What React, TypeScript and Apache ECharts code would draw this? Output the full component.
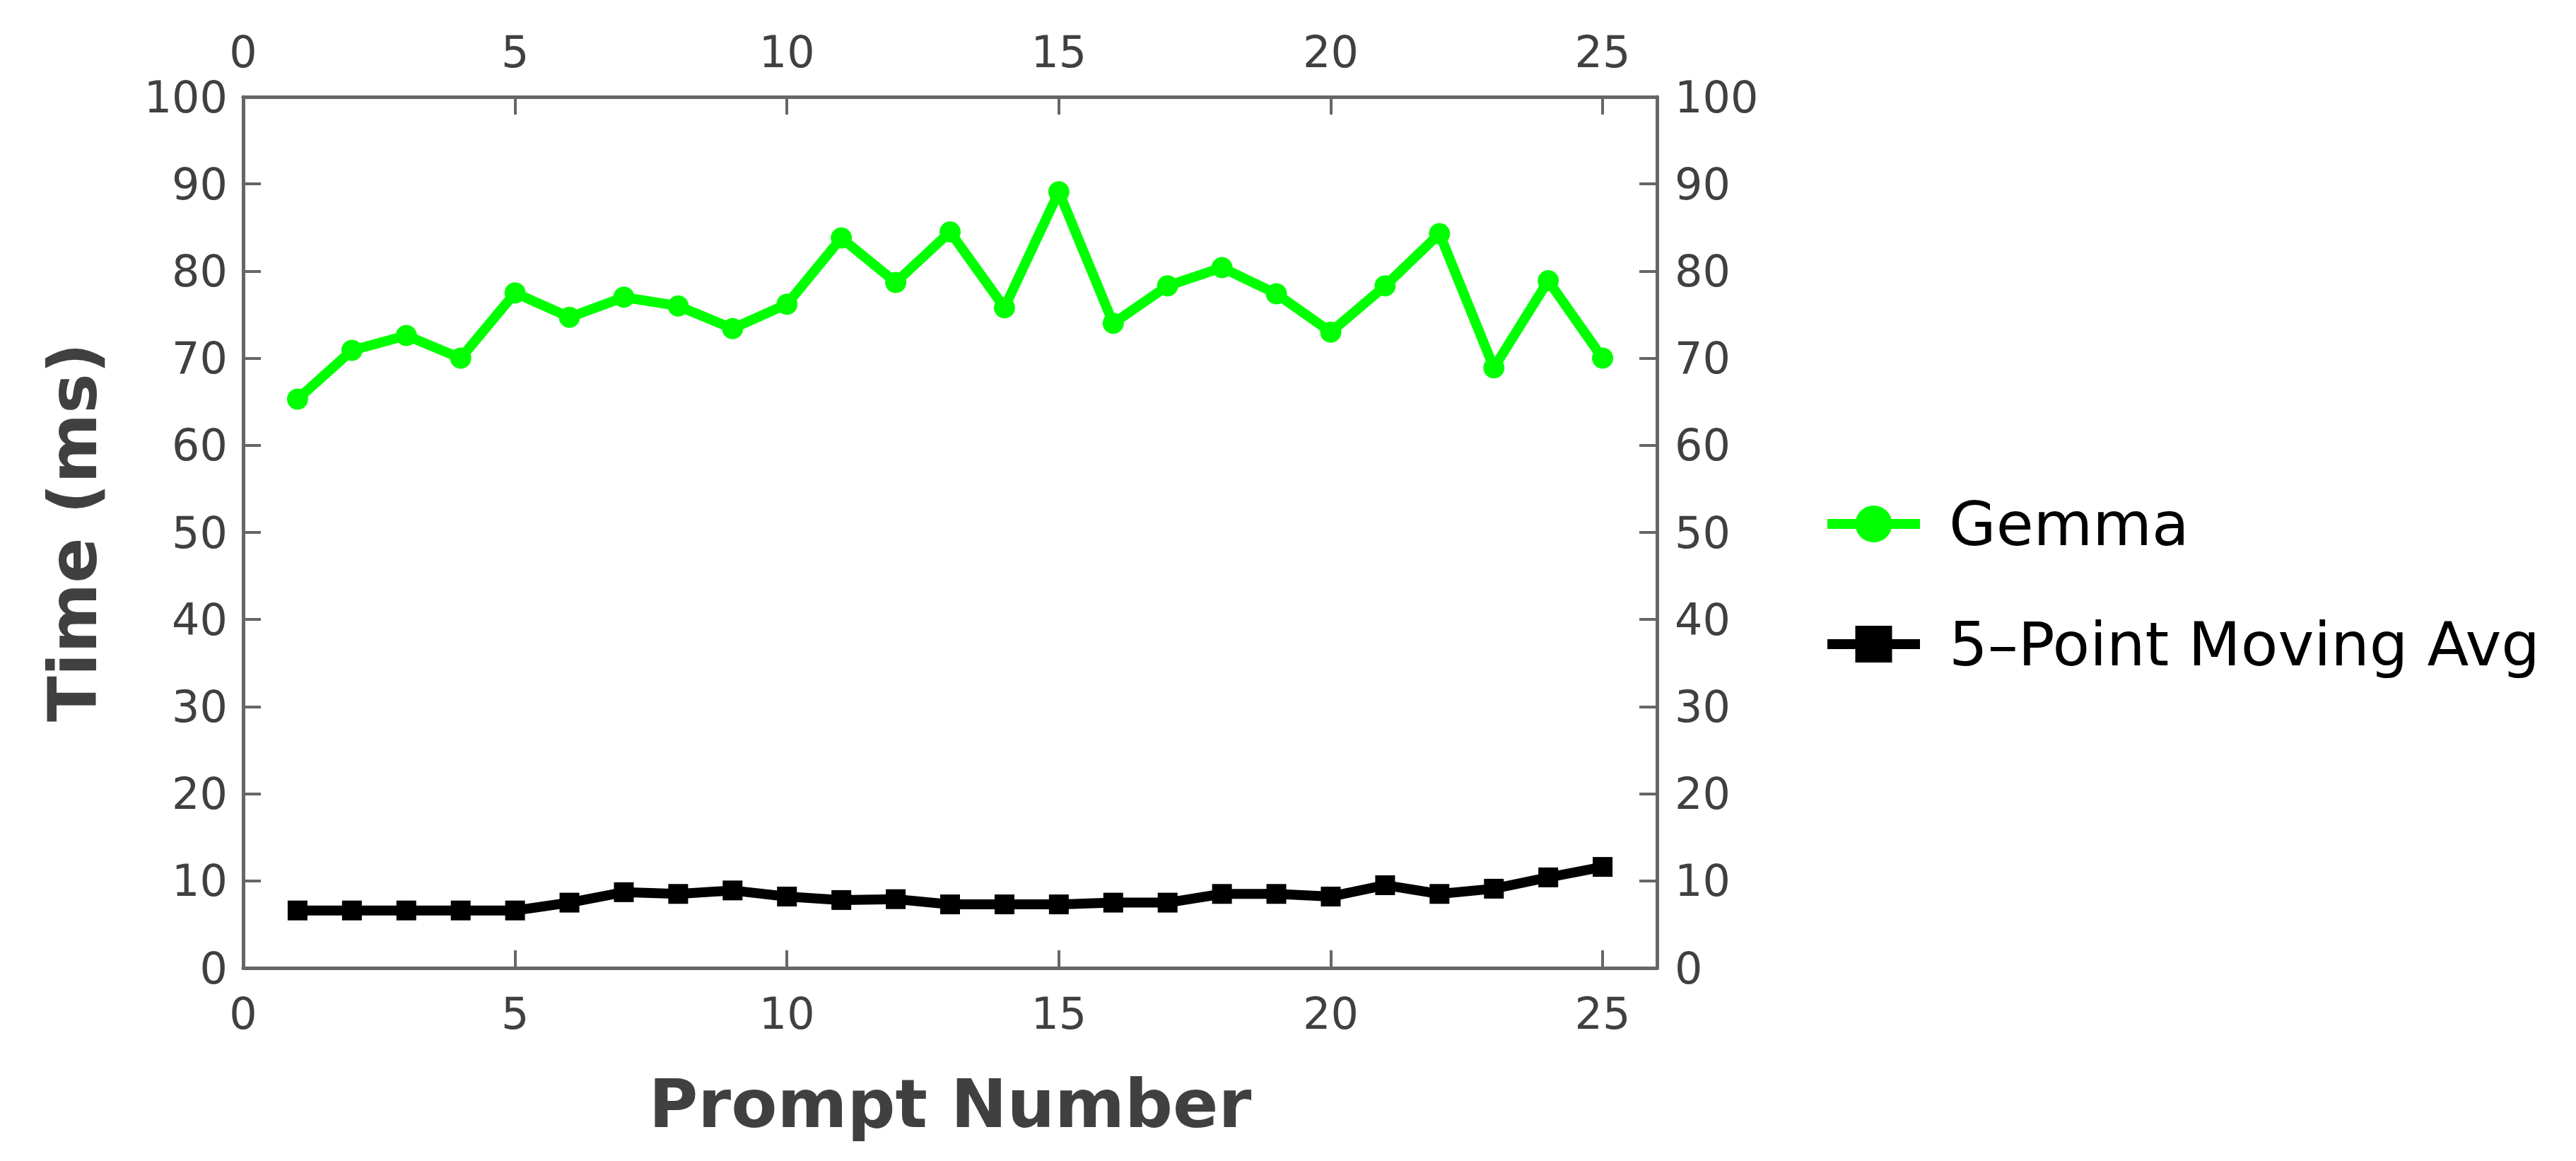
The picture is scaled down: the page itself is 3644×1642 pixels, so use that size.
import React, { useEffect, useRef } from "react";
import * as echarts from "echarts";

const prompts = [1, 2, 3, 4, 5, 6, 7, 8, 9, 10, 11, 12, 13, 14, 15, 16, 17, 18, 19, 20, 21, 22, 23, 24, 25];
const gemma = [65.3, 70.9, 72.6, 70.0, 77.5, 74.7, 77.0, 76.0, 73.4, 76.2, 83.8, 78.7, 84.5, 75.8, 89.1, 74.0, 78.3, 80.4, 77.4, 73.0, 78.3, 84.3, 68.9, 78.9, 70.0];
const movingAvg = [6.6, 6.6, 6.6, 6.6, 6.6, 7.5, 8.7, 8.5, 8.9, 8.2, 7.8, 7.9, 7.3, 7.3, 7.3, 7.5, 7.5, 8.5, 8.5, 8.2, 9.5, 8.5, 9.1, 10.4, 11.6];
const seriesNames = ["Gemma", "5\u2013Point Moving Avg"];
const xTitle = "Prompt Number";
const yTitle = "Time (ms)";

const FONT = "DejaVu Sans";
const AXIS_COLOR = "#666666";
const TEXT_COLOR = "#404040";

function xAxisCfg(position: "top" | "bottom", withName: boolean) {
  return {
    type: "value",
    position,
    min: 0,
    max: 26,
    interval: 5,
    axisLine: { show: true, onZero: false, lineStyle: { color: AXIS_COLOR, width: 5 } },
    axisTick: { show: true, inside: true, length: 25, lineStyle: { color: AXIS_COLOR, width: 4 } },
    axisLabel: {
      show: true,
      margin: 33,
      fontSize: 62,
      color: TEXT_COLOR,
      fontFamily: FONT,
      formatter: (v: number) => (v % 5 === 0 ? String(v) : ""),
    },
    splitLine: { show: false },
    ...(withName
      ? {
          name: xTitle,
          nameLocation: "middle",
          nameGap: 144,
          nameTextStyle: { fontSize: 95, fontWeight: "bold", color: TEXT_COLOR, fontFamily: FONT },
        }
      : {}),
  };
}

function yAxisCfg(position: "left" | "right", withName: boolean) {
  return {
    type: "value",
    position,
    min: 0,
    max: 100,
    interval: 10,
    axisLine: { show: true, onZero: false, lineStyle: { color: AXIS_COLOR, width: 5 } },
    axisTick: { show: true, inside: true, length: 25, lineStyle: { color: AXIS_COLOR, width: 4 } },
    axisLabel: {
      show: true,
      margin: position === "left" ? 22 : 25,
      fontSize: 62,
      color: TEXT_COLOR,
      fontFamily: FONT,
    },
    splitLine: { show: false },
    ...(withName
      ? {
          name: yTitle,
          nameLocation: "middle",
          nameGap: 194,
          nameRotate: 90,
          nameTextStyle: { fontSize: 95, fontWeight: "bold", color: TEXT_COLOR, fontFamily: FONT },
        }
      : {}),
  };
}

export default function App() {
  const ref = useRef<HTMLDivElement>(null);

  useEffect(() => {
    document.body.style.margin = "0";
    if (!ref.current) return;
    const chart = echarts.init(ref.current, undefined, { renderer: "svg" });
    chart.setOption({
      animation: false,
      backgroundColor: "#ffffff",
      grid: { left: 344, right: 1300, top: 137, bottom: 273, containLabel: false },
      legend: {
        orient: "vertical",
        left: 2573,
        top: 693,
        itemWidth: 131,
        itemHeight: 65,
        itemGap: 84,
        lineStyle: { width: 14 },
        textStyle: {
          fontSize: 86,
          lineHeight: 65,
          color: "#000000",
          fontFamily: FONT,
          padding: [0, 0, 0, 36],
        },
        data: seriesNames,
      },
      xAxis: [xAxisCfg("bottom", true), xAxisCfg("top", false)],
      yAxis: [yAxisCfg("left", true), yAxisCfg("right", false)],
      series: [
        {
          name: seriesNames[0],
          type: "line",
          xAxisIndex: 0,
          yAxisIndex: 0,
          data: prompts.map((p, i) => [p, gemma[i]]),
          symbol: "circle",
          symbolSize: 30,
          itemStyle: { color: "#00ff00" },
          lineStyle: { color: "#00ff00", width: 14 },
        },
        {
          name: seriesNames[1],
          type: "line",
          xAxisIndex: 0,
          yAxisIndex: 0,
          data: prompts.map((p, i) => [p, movingAvg[i]]),
          symbol: "rect",
          symbolSize: 28,
          itemStyle: { color: "#000000" },
          lineStyle: { color: "#000000", width: 14 },
        },
      ],
    });
    return () => chart.dispose();
  }, []);

  return (
    <div
      ref={ref}
      style={{ position: "absolute", left: 0, top: 0, width: 3644, height: 1642 }}
    />
  );
}
